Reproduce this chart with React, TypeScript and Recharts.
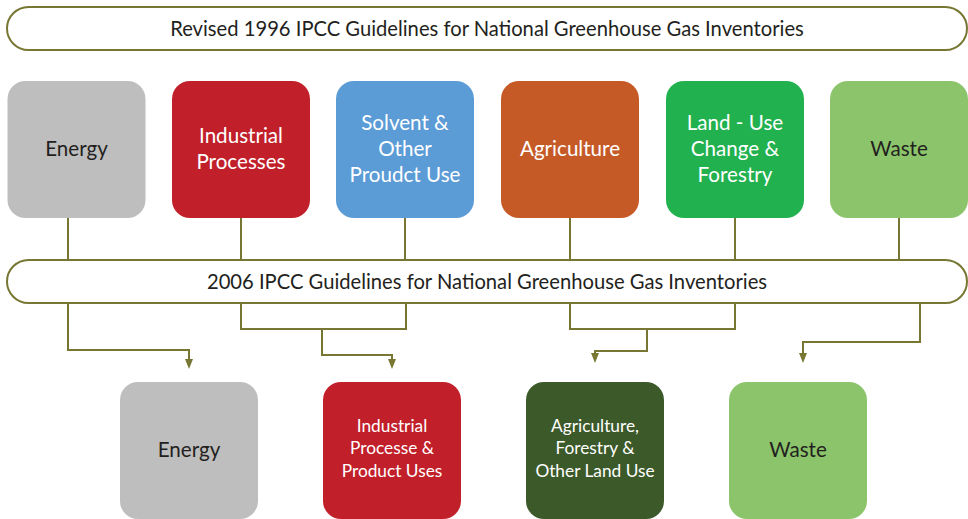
import { ScatterChart, Scatter, XAxis, YAxis, ReferenceArea } from "recharts";

const W = 968;
const H = 519;
const LINE = "#777733";
const DARK = "#231f20";
const FONT = "Lato, 'Open Sans', sans-serif";

// guideline bands (pills)
const bandTitles = [
  "Revised 1996 IPCC Guidelines for National Greenhouse Gas Inventories",
  "2006 IPCC Guidelines for National Greenhouse Gas Inventories",
];
const bandX = [7, 967];
const bandY = [
  [7, 50],
  [260, 303],
];

// 1996 categories
const oldCategories = [
  ["Energy"],
  ["Industrial", "Processes"],
  ["Solvent &", "Other", "Proudct Use"],
  ["Agriculture"],
  ["Land - Use", "Change &", "Forestry"],
  ["Waste"],
];
const oldX = [76.5, 241, 405, 570, 735, 899];
const oldY = 149.5;
const oldColors = ["#bebebe", "#c1202a", "#5b9bd6", "#c55a27", "#22b14f", "#8bc46a"];
const oldTextColors = [DARK, "#fff", "#fff", "#fff", "#fff", DARK];

// 2006 categories
const newCategories = [
  ["Energy"],
  ["Industrial", "Processe &", "Product Uses"],
  ["Agriculture,", "Forestry &", "Other Land Use"],
  ["Waste"],
];
const newX = [189, 392, 595, 798];
const newY = 450.5;
const newColors = ["#bebebe", "#c1202a", "#3c592a", "#8bc46a"];
const newTextColors = [DARK, "#fff", "#fff", DARK];

// connector paths (diagram coordinates)
const links: number[][][] = [
  [[68, 218], [68, 260]],
  [[241, 218], [241, 260]],
  [[405, 218], [405, 260]],
  [[570, 218], [570, 260]],
  [[735, 218], [735, 260]],
  [[899, 218], [899, 260]],
  [[68, 303], [68, 350], [189, 350], [189, 360]],
  [[241, 303], [241, 329], [406, 329], [406, 303]],
  [[322, 329], [322, 355], [392, 355], [392, 360]],
  [[570, 303], [570, 329], [735, 329], [735, 303]],
  [[647, 329], [647, 351], [595, 351], [595, 355]],
  [[920, 303], [920, 342], [803, 342], [803, 355]],
];
const arrowTips = [
  [189, 369],
  [392, 369],
  [595, 363],
  [803, 363],
];

const BOX_W = 138;
const BOX_H = 137;

function Box(props: any) {
  const { cx, cy, payload } = props;
  const lines: string[] = payload.lines;
  const small = payload.row === 2 && lines.length > 1;
  const fs = small ? 17.3 : 20.6;
  const lh = small ? 22.5 : 26;
  return (
    <g>
      <rect x={cx - BOX_W / 2} y={cy - BOX_H / 2} width={BOX_W} height={BOX_H} rx={18} fill={payload.fill} />
      {lines.map((t, i) => (
        <text
          key={i}
          x={cx}
          y={cy + (i - (lines.length - 1) / 2) * lh - (small ? 2.5 : 1)}
          dy="0.35em"
          textAnchor="middle"
          fontSize={fs}
          fontFamily={FONT}
          fill={payload.color}
        >
          {t}
        </text>
      ))}
    </g>
  );
}

function Arrow(props: any) {
  const { cx, cy } = props;
  return <path d={`M${cx - 4},${cy - 10} L${cx + 4},${cy - 10} L${cx},${cy} Z`} fill={LINE} />;
}

function Band(title: string) {
  return (props: any) => {
    const { x, y, width, height } = props;
    return (
      <g>
        <rect x={x} y={y} width={width} height={height} rx={height / 2} fill="#fff" stroke={LINE} strokeWidth={2} />
        <text x={x + width / 2} y={y + height / 2} dy="0.35em" textAnchor="middle" fontSize={20.2} fontFamily={FONT} fill={DARK}>
          {title}
        </text>
      </g>
    );
  };
}

export default function App() {
  const oldData = oldX.map((x, i) => ({ x, y: oldY, lines: oldCategories[i], fill: oldColors[i], color: oldTextColors[i], row: 1 }));
  const newData = newX.map((x, i) => ({ x, y: newY, lines: newCategories[i], fill: newColors[i], color: newTextColors[i], row: 2 }));
  const tipData = arrowTips.map(([x, y]) => ({ x, y }));

  return (
    <div style={{ position: "absolute", left: 0, top: 0, background: "#fff" }}>
      <ScatterChart width={W} height={H} margin={{ top: 0, right: 0, bottom: 0, left: 0 }}>
        <XAxis type="number" dataKey="x" domain={[0, W]} hide allowDataOverflow />
        <YAxis type="number" dataKey="y" domain={[0, H]} reversed hide allowDataOverflow />
        {links.map((path, i) => (
          <Scatter
            key={`link-${i}`}
            data={path.map(([x, y]) => ({ x, y }))}
            fill={LINE}
            line={{ stroke: LINE, strokeWidth: 2 }}
            lineType="joint"
            shape={() => <g />}
            isAnimationActive={false}
          />
        ))}
        <Scatter data={tipData} shape={Arrow} fill={LINE} isAnimationActive={false} />
        {bandTitles.map((t, i) => (
          <ReferenceArea
            key={`band-${i}`}
            x1={bandX[0]}
            x2={bandX[1]}
            y1={bandY[i][0]}
            y2={bandY[i][1]}
            shape={Band(t)}
          />
        ))}
        <Scatter data={oldData} shape={Box} isAnimationActive={false} />
        <Scatter data={newData} shape={Box} isAnimationActive={false} />
      </ScatterChart>
    </div>
  );
}
